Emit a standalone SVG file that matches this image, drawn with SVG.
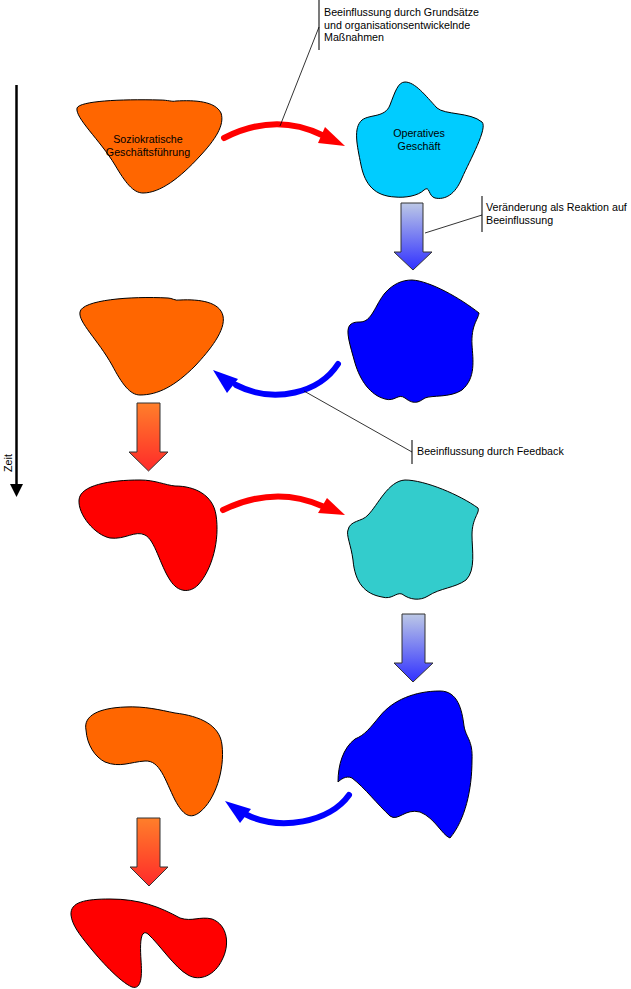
<svg xmlns="http://www.w3.org/2000/svg" width="631" height="989" viewBox="0 0 631 989">
<style>
.shape{stroke:#000;stroke-width:1}
.txt{font-family:"Liberation Sans",Arial,sans-serif;font-size:10.7px;fill:#000}
.ctr{text-anchor:middle}
.call{stroke:#000;stroke-width:0.8;fill:none}
.bar{stroke:#333;stroke-width:1.3;fill:none}
.shaftR{stroke:#FF0000;stroke-width:6;fill:none;stroke-linecap:round}
.shaftB{stroke:#0000FF;stroke-width:6;fill:none;stroke-linecap:round}
.blk{stroke:#333;stroke-width:1}
</style>
<defs>
<linearGradient id="gBlue" x1="0" y1="0" x2="0" y2="1">
<stop offset="0" stop-color="#BCC8E6"/>
<stop offset="1" stop-color="#3030FF"/>
</linearGradient>
<linearGradient id="gRed" x1="0" y1="0" x2="0" y2="1">
<stop offset="0" stop-color="#FF7F2A"/>
<stop offset="1" stop-color="#FF2A2A"/>
</linearGradient>
</defs>
<rect width="631" height="989" fill="#fff"/>

<g id="timeaxis">
<line x1="16.5" y1="85" x2="16.5" y2="486" stroke="#000" stroke-width="2.5"/>
<polygon points="10,484 23,484 16.5,497" fill="#000"/>
<text class="txt" transform="translate(12,463) rotate(-90)" text-anchor="middle">Zeit</text>
</g>

<g id="connectors">
<path class="shaftR" d="M 224 138 Q 275 112 322 135"/>
<polygon points="345,146 325,127 318,143" fill="#FF0000"/>
<path class="shaftB" d="M 338 364 C 320 392 275 405 236 385"/>
<polygon points="213,370 238,379 227,393" fill="#0000FF"/>
<path class="shaftR" d="M 223 510 Q 275 485 322 506"/>
<polygon points="345,515 327,498 318,513" fill="#FF0000"/>
<path class="shaftB" d="M 349 795 C 330 822 280 832 245 814"/>
<polygon points="225,801 251,809 240,823" fill="#0000FF"/>
<polygon class="blk" points="401,203 423,203 423,252 432,252 413,270 394,252 401,252" fill="url(#gBlue)"/>
<polygon class="blk" points="402,614 425,614 425,663 433,663 413,682 394,663 402,663" fill="url(#gBlue)"/>
<polygon class="blk" points="137,403 160,403 160,452 168,452 148.5,471 129,452 137,452" fill="url(#gRed)"/>
<polygon class="blk" points="137,818 160,818 160,867 168,867 149,886 130,867 137,867" fill="url(#gRed)"/>
</g>

<g id="callout1">
<line class="bar" x1="319" y1="0" x2="319" y2="50"/>
<line class="call" x1="280" y1="126" x2="319" y2="27"/>
<text class="txt" x="324" y="16">Beeinflussung durch Grundsätze</text>
<text class="txt" x="324" y="28.5">und organisationsentwickelnde</text>
<text class="txt" x="324" y="41">Maßnahmen</text>
</g>

<g id="callout2">
<line class="bar" x1="482" y1="196" x2="482" y2="232"/>
<line class="call" x1="425" y1="233" x2="482" y2="215"/>
<text class="txt" x="486" y="211">Veränderung als Reaktion auf</text>
<text class="txt" x="486" y="224">Beeinflussung</text>
</g>

<g id="callout3">
<line class="bar" x1="412" y1="440" x2="412" y2="464"/>
<line class="call" x1="304" y1="391" x2="412" y2="452"/>
<text class="txt" x="417" y="455">Beeinflussung durch Feedback</text>
</g>

<g id="sozio1">
<path class="shape" fill="#FF6600" d="M 77 108 C 80 101, 120 99, 160 100 C 168 100, 172 102, 176 101 C 195 100, 215 101, 221 113 C 225 125, 215 140, 200 156 C 180 178, 160 193, 143 193 C 133 193, 125 182, 115 165 C 100 140, 75 118, 77 108 Z"/>
<text class="txt ctr" x="148" y="143">Soziokratische</text>
<text class="txt ctr" x="148" y="155.5">Geschäftsführung</text>
</g>

<g id="operativ1">
<path class="shape" fill="#00CCFF" d="M 405 82 C 415 82, 425 95, 437 108 C 445 115, 470 112, 482 122 C 488 128, 470 160, 462 178 C 455 195, 445 200, 435 198 C 428 196, 430 185, 424 190 C 418 196, 405 198, 395 197 C 375 196, 365 185, 361 165 C 357 145, 353 128, 362 120 C 370 114, 385 118, 390 105 C 395 92, 398 82, 405 82 Z"/>
<text class="txt ctr" x="419" y="137">Operatives</text>
<text class="txt ctr" x="419" y="150">Geschäft</text>
</g>

<g id="operativ2">
<path class="shape" fill="#0000FF" d="M 360 322 C 372 322, 375 305, 385 293 C 393 284, 402 280, 412 280 C 430 281, 460 298, 479 313 C 478 320, 471 325, 472 345 C 473 360, 476 378, 462 390 C 450 398, 432 395, 425 398 C 420 401, 415 406, 405 398 C 398 393, 395 402, 385 399 C 370 395, 360 380, 355 363 C 350 345, 345 330, 350 325 C 353 322, 357 322, 360 322 Z"/>
</g>

<g id="sozio2">
<path class="shape" fill="#FF6600" d="M 80 312 C 82 300, 130 296, 168 298 C 172 298, 175 301, 180 300 C 200 299, 220 302, 223 316 C 226 330, 210 350, 195 366 C 175 386, 158 395, 140 395 C 130 395, 122 384, 112 365 C 98 340, 78 322, 80 312 Z"/>
</g>

<g id="sozio3">
<path class="shape" fill="#FF0000" d="M 79 500 C 80 485, 110 480, 140 480 C 155 480, 165 485, 175 486 C 195 486, 213 495, 216 515 C 220 540, 212 570, 198 585 C 190 593, 178 593, 170 580 C 160 565, 155 540, 145 535 C 135 530, 125 540, 110 538 C 95 535, 78 515, 79 500 Z"/>
</g>

<g id="operativ3">
<path class="shape" fill="#33CCCC" d="M 348 530 C 350 520, 362 522, 368 515 C 378 505, 388 481, 405 480 C 425 480, 460 495, 478 508 C 480 513, 472 518, 472 535 C 472 550, 476 570, 466 580 C 455 588, 440 588, 428 596 C 420 601, 410 600, 402 594 C 396 592, 392 600, 382 597 C 365 594, 355 583, 353 560 C 351 545, 346 535, 348 530 Z"/>
</g>

<g id="operativ4">
<path class="shape" fill="#0000FF" d="M 338 782 C 338 765, 343 748, 355 739 C 365 735, 370 728, 380 716 C 393 700, 415 691, 440 691 C 458 691, 462 710, 464 726 C 466 738, 473 740, 472 760 C 472 790, 465 820, 450 838 C 442 835, 435 818, 420 812 C 405 808, 398 822, 390 816 C 378 805, 365 788, 352 778 C 346 775, 340 780, 338 782 Z"/>
</g>

<g id="sozio4">
<path class="shape" fill="#FF6600" d="M 86 730 C 83 715, 100 708, 125 707 C 145 706, 160 710, 175 713 C 200 716, 220 725, 222 745 C 225 770, 215 800, 200 812 C 190 820, 183 815, 175 800 C 165 780, 160 760, 145 761 C 130 762, 120 768, 105 762 C 95 757, 87 745, 86 730 Z"/>
</g>

<g id="sozio5">
<path class="shape" fill="#FF0000" d="M 71 915 C 70 902, 85 899, 110 899 C 140 899, 160 907, 180 918 C 192 922, 200 916, 212 919 C 228 925, 230 945, 222 960 C 215 975, 200 982, 188 975 C 175 968, 160 945, 148 934 C 140 928, 140 945, 141 960 C 142 975, 142 990, 132 987 C 120 982, 100 960, 88 945 C 80 935, 72 925, 71 915 Z"/>
</g>
</svg>
